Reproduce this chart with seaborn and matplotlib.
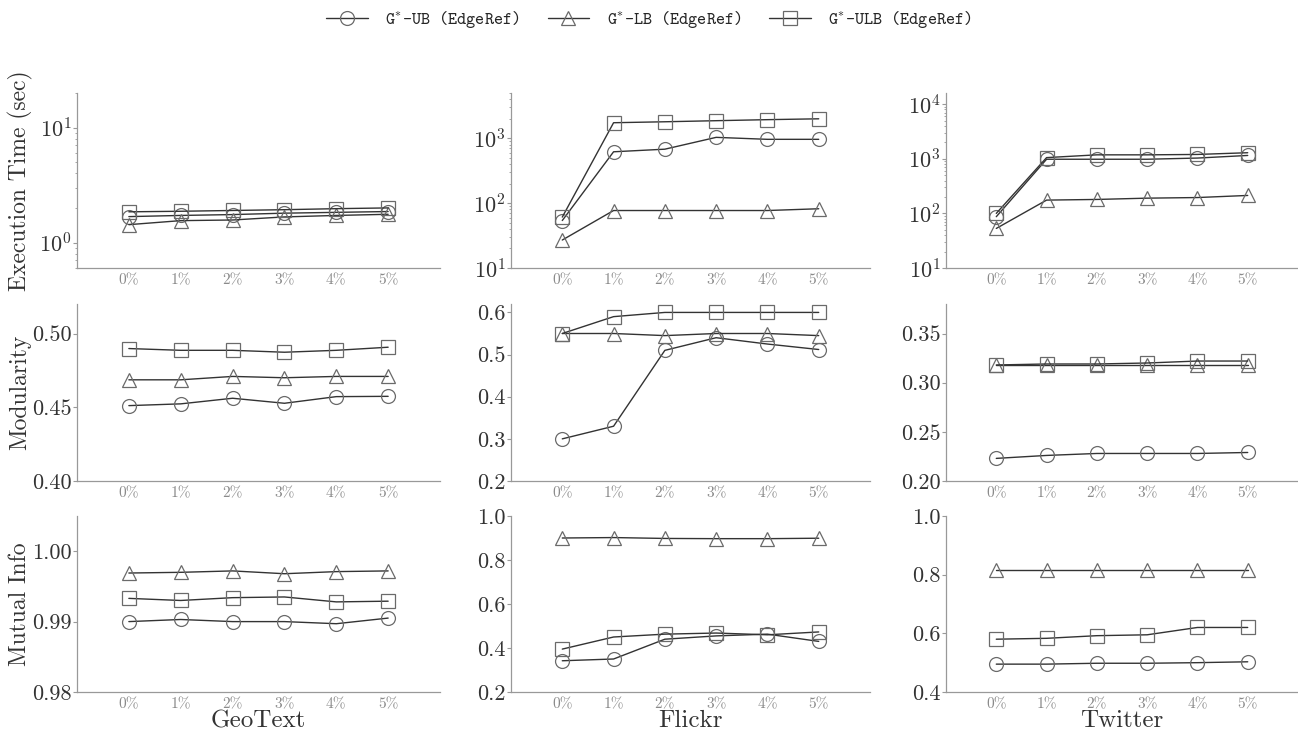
import matplotlib
matplotlib.use("Agg")
import matplotlib.pyplot as plt
import matplotlib.ticker as mticker
import seaborn as sns

# x axis: share of edges refined
pcts = ["0%", "1%", "2%", "3%", "4%", "5%"]
datasets = ["GeoText", "Flickr", "Twitter"]
metrics = ["Execution Time (sec)", "Modularity", "Mutual Info"]
methods = ["G$^{*}$-UB (EdgeRef)", "G$^{*}$-LB (EdgeRef)", "G$^{*}$-ULB (EdgeRef)"]

# execution time (sec)
geo_time_ub = [1.68, 1.72, 1.75, 1.80, 1.83, 1.86]
geo_time_lb = [1.43, 1.55, 1.57, 1.67, 1.72, 1.76]
geo_time_ulb = [1.85, 1.87, 1.90, 1.93, 1.97, 2.00]
fl_time_ub = [54, 620, 680, 1035, 965, 965]
fl_time_lb = [27, 77, 77, 77, 77, 82]
fl_time_ulb = [61, 1740, 1800, 1870, 1940, 2000]
tw_time_ub = [87, 980, 980, 980, 1030, 1150]
tw_time_lb = [53, 175, 180, 190, 195, 213]
tw_time_ulb = [100, 1050, 1180, 1180, 1200, 1290]

# modularity
geo_mod_ub = [0.4511, 0.4523, 0.4561, 0.4527, 0.4572, 0.4574]
geo_mod_lb = [0.4686, 0.4686, 0.4709, 0.4700, 0.4709, 0.4709]
geo_mod_ulb = [0.4898, 0.4886, 0.4886, 0.4873, 0.4886, 0.4907]
fl_mod_ub = [0.300, 0.330, 0.510, 0.540, 0.525, 0.512]
fl_mod_lb = [0.550, 0.550, 0.545, 0.550, 0.550, 0.545]
fl_mod_ulb = [0.550, 0.590, 0.600, 0.600, 0.600, 0.600]
tw_mod_ub = [0.223, 0.226, 0.228, 0.228, 0.228, 0.229]
tw_mod_lb = [0.318, 0.318, 0.318, 0.318, 0.318, 0.318]
tw_mod_ulb = [0.318, 0.319, 0.319, 0.320, 0.322, 0.322]

# mutual info
geo_mi_ub = [0.9900, 0.9903, 0.9900, 0.9900, 0.9897, 0.9905]
geo_mi_lb = [0.9969, 0.9970, 0.9972, 0.9968, 0.9971, 0.9972]
geo_mi_ulb = [0.9933, 0.9930, 0.9934, 0.9935, 0.9928, 0.9929]
fl_mi_ub = [0.342, 0.350, 0.440, 0.455, 0.463, 0.430]
fl_mi_lb = [0.900, 0.902, 0.898, 0.897, 0.897, 0.899]
fl_mi_ulb = [0.395, 0.450, 0.463, 0.468, 0.460, 0.473]
tw_mi_ub = [0.495, 0.495, 0.498, 0.498, 0.500, 0.503]
tw_mi_lb = [0.815, 0.815, 0.815, 0.815, 0.815, 0.815]
tw_mi_ulb = [0.580, 0.583, 0.592, 0.595, 0.620, 0.620]

grid = [
    [(geo_time_ub, geo_time_lb, geo_time_ulb), (fl_time_ub, fl_time_lb, fl_time_ulb), (tw_time_ub, tw_time_lb, tw_time_ulb)],
    [(geo_mod_ub, geo_mod_lb, geo_mod_ulb), (fl_mod_ub, fl_mod_lb, fl_mod_ulb), (tw_mod_ub, tw_mod_lb, tw_mod_ulb)],
    [(geo_mi_ub, geo_mi_lb, geo_mi_ulb), (fl_mi_ub, fl_mi_lb, fl_mi_ulb), (tw_mi_ub, tw_mi_lb, tw_mi_ulb)],
]

ylims = [
    [(0.6, 20), (10, 5000), (10, 16000)],
    [(0.40, 0.52), (0.2, 0.62), (0.20, 0.38)],
    [(0.98, 1.005), (0.2, 1.0), (0.4, 1.0)],
]
yticks = [
    [[1, 10], [10, 100, 1000], [10, 100, 1000, 10000]],
    [[0.40, 0.45, 0.50], [0.2, 0.3, 0.4, 0.5, 0.6], [0.20, 0.25, 0.30, 0.35]],
    [[0.98, 0.99, 1.00], [0.2, 0.4, 0.6, 0.8, 1.0], [0.4, 0.6, 0.8, 1.0]],
]
yfmt = [
    [None, None, None],
    ["%.2f", "%.1f", "%.2f"],
    ["%.2f", "%.1f", "%.1f"],
]

markers = ["o", "^", "s"]

sns.set_style("ticks")
plt.rcParams["font.family"] = ["cmr10", "DejaVu Serif"]
plt.rcParams["mathtext.fontset"] = "cm"
plt.rcParams["axes.formatter.use_mathtext"] = True
plt.rcParams["axes.unicode_minus"] = False

W, H = 1298, 733
fig = plt.figure(figsize=(W / 100, H / 100), dpi=100)

col_x = [(77, 440), (511, 870), (946, 1298)]
row_y = [(93, 268), (304, 481), (516, 692)]

line_col = "#333333"
mk_col = "#6a6a6a"
spine_col = "#999999"

xs = list(range(len(pcts)))
handles = None

for r in range(3):
    for c in range(3):
        x0, x1 = col_x[c]
        y0, y1 = row_y[r]
        ax = fig.add_axes([x0 / W, 1 - y1 / H, (x1 - x0) / W, (y1 - y0) / H])
        for vals, m, lab in zip(grid[r][c], markers, methods):
            sns.lineplot(x=xs, y=vals, ax=ax, marker=m, markersize=10,
                         color=line_col, linewidth=1.0,
                         markerfacecolor="none", markeredgecolor=mk_col,
                         markeredgewidth=0.9, label=lab)
        if r == 0:
            ax.set_yscale("log")
            ax.yaxis.set_minor_locator(mticker.LogLocator(base=10, subs=range(2, 10), numticks=20))
            ax.yaxis.set_minor_formatter(mticker.NullFormatter())
        ax.set_yticks(yticks[r][c])
        if yfmt[r][c] is not None:
            ax.yaxis.set_major_formatter(mticker.FormatStrFormatter(yfmt[r][c]))
        ax.set_ylim(*ylims[r][c])
        ax.set_xlim(-1, 6)
        ax.set_xticks(xs)
        ax.set_xticklabels(pcts)
        ax.tick_params(axis="x", length=0, labelsize=11, labelcolor="#8a8a8a", pad=4)
        ax.tick_params(axis="y", which="major", length=3, labelsize=16,
                       labelcolor="#333333", color=spine_col, pad=1)
        ax.tick_params(axis="y", which="minor", length=1.5, color=spine_col)
        for s in ["top", "right"]:
            ax.spines[s].set_visible(False)
        for s in ["left", "bottom"]:
            ax.spines[s].set_color(spine_col)
            ax.spines[s].set_linewidth(0.9)
        if handles is None:
            handles, labels = ax.get_legend_handles_labels()
        ax.get_legend().remove()
        ax.set_xlabel("")
        ax.set_ylabel("")
        if c == 0:
            ax.set_ylabel(metrics[r], fontsize=17, color="#333333")
            ax.yaxis.set_label_coords(-0.157, 0.5)
            ax.yaxis.label.set_verticalalignment("center")
        if r == 2:
            ax.set_xlabel(datasets[c], fontsize=18, color="#333333")
            ax.xaxis.set_label_coords(0.5, -0.165)
            ax.xaxis.label.set_verticalalignment("center")

fig.legend(handles, labels, loc="center", bbox_to_anchor=(0.5, 1 - 20 / H),
           ncol=3, frameon=False, handlelength=2.4, handletextpad=1.0,
           columnspacing=1.6,
           prop={"family": ["cmtt10", "DejaVu Sans Mono"], "size": 12.5})

fig.savefig("out.png", dpi=100)
